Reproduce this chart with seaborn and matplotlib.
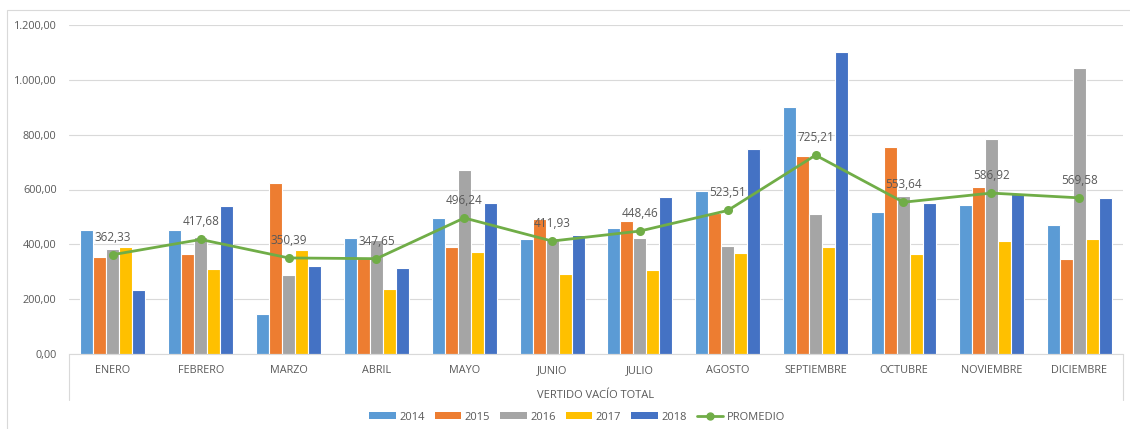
import numpy as np
import pandas as pd

import matplotlib
matplotlib.use('Agg')
import matplotlib.pyplot as plt
from matplotlib.lines import Line2D
from matplotlib.patches import Rectangle
from matplotlib.ticker import FuncFormatter

import seaborn as sns


months = ['ENERO', 'FEBRERO', 'MARZO', 'ABRIL', 'MAYO', 'JUNIO', 'JULIO',
          'AGOSTO', 'SEPTIEMBRE', 'OCTUBRE', 'NOVIEMBRE', 'DICIEMBRE']
years = ['2014', '2015', '2016', '2017', '2018']

v2014 = [452, 452, 146, 422, 495, 420, 458, 596, 902, 518, 544, 470]
v2015 = [355, 365, 622, 352, 389, 491, 485, 513, 723, 756, 608, 345]
v2016 = [383, 425, 287, 414, 671, 424, 422, 394, 509, 577, 783, 1042]
v2017 = [389, 310, 379, 238, 373, 291, 306, 367, 389, 365, 412, 421]
v2018 = [233, 540, 321, 312, 550, 434, 572, 746, 1103, 552, 588, 569]
promedio = [362.33, 417.68, 350.39, 347.65, 496.24, 411.93, 448.46,
            523.51, 725.21, 553.64, 586.92, 569.58]

year_colors = ['#5B9BD5', '#ED7D31', '#A5A5A5', '#FFC000', '#4472C4']
line_color = '#70AD47'
text_color = '#595959'
grid_color = '#D9D9D9'

FONT = 'Open Sans'
TICK_FONT_SIZE = 7.8
LABEL_FONT_SIZE = 8


def es_format(v, pos=None):
    s = '{:,.2f}'.format(v)
    return s.replace(',', 'X').replace('.', ',').replace('X', '.')


series = [v2014, v2015, v2016, v2017, v2018]
df = pd.DataFrame({
    'mes': months * len(years),
    'anio': [y for y in years for _ in months],
    'valor': [v for s in series for v in s],
})

sns.set_style('white')
plt.rcParams['font.family'] = [FONT, 'DejaVu Sans']

fig = plt.figure(figsize=(11.3, 4.29), dpi=100)
ax = fig.add_axes([69/1130, (429-354)/429, (1123-69)/1130, (354-25)/429])

sns.barplot(data=df, x='mes', y='valor', hue='anio', order=months, hue_order=years,
            palette=year_colors, width=0.74, edgecolor='white', linewidth=0.8,
            saturation=1, legend=False, ax=ax)

sns.pointplot(x=months, y=promedio, order=months, color=line_color, markers='o',
              markersize=5, linewidth=2, errorbar=None, ax=ax)
if ax.get_legend() is not None:
    ax.get_legend().remove()

for i, p in enumerate(promedio):
    ax.annotate(es_format(p), (i, p), xytext=(0, 8), textcoords='offset points',
                ha='center', va='bottom', fontsize=8.5, color=text_color)

ax.set_ylim(0, 1200)
ax.set_xlim(-0.5, 11.5)
ax.set_yticks(range(0, 1201, 200))
ax.yaxis.set_major_formatter(FuncFormatter(es_format))
ax.yaxis.grid(True, color=grid_color, linewidth=0.8)
ax.set_axisbelow(True)
ax.tick_params(axis='both', length=0, colors=text_color, labelsize=TICK_FONT_SIZE)
ax.tick_params(axis='y', pad=9)
ax.tick_params(axis='x', pad=8)
for side in ['top', 'left', 'right']:
    ax.spines[side].set_visible(False)
ax.spines['bottom'].set_color(grid_color)
ax.spines['bottom'].set_linewidth(0.8)

ax.set_ylabel('')
ax.set_xlabel('VERTIDO VACÍO TOTAL', fontsize=LABEL_FONT_SIZE, color=text_color, labelpad=10)

# category axis side lines under the plot
for x in [0, 1]:
    ax.plot([x, x], [0, -0.14], transform=ax.transAxes, color=grid_color,
            linewidth=0.8, clip_on=False)

# chart border
fig.patches.append(Rectangle((7/1130, -0.1), 1.1, (429-10)/429 + 0.1,
                             transform=fig.transFigure, fill=False,
                             edgecolor=grid_color, linewidth=0.8))

handles = [Rectangle((0, 0), 1, 1, facecolor=c, edgecolor='none') for c in year_colors]
handles.append(Line2D([0], [0], color=line_color, linewidth=2, marker='o', markersize=5))
fig.legend(handles, years + ['PROMEDIO'], loc='center', bbox_to_anchor=(577/1130, (429-417)/429),
           ncol=6, frameon=False, fontsize=LABEL_FONT_SIZE, handlelength=2.4,
           handleheight=0.6, handletextpad=0.3, columnspacing=0.9, labelcolor=text_color)

fig.savefig('out.png', dpi=100)
plt.close()
